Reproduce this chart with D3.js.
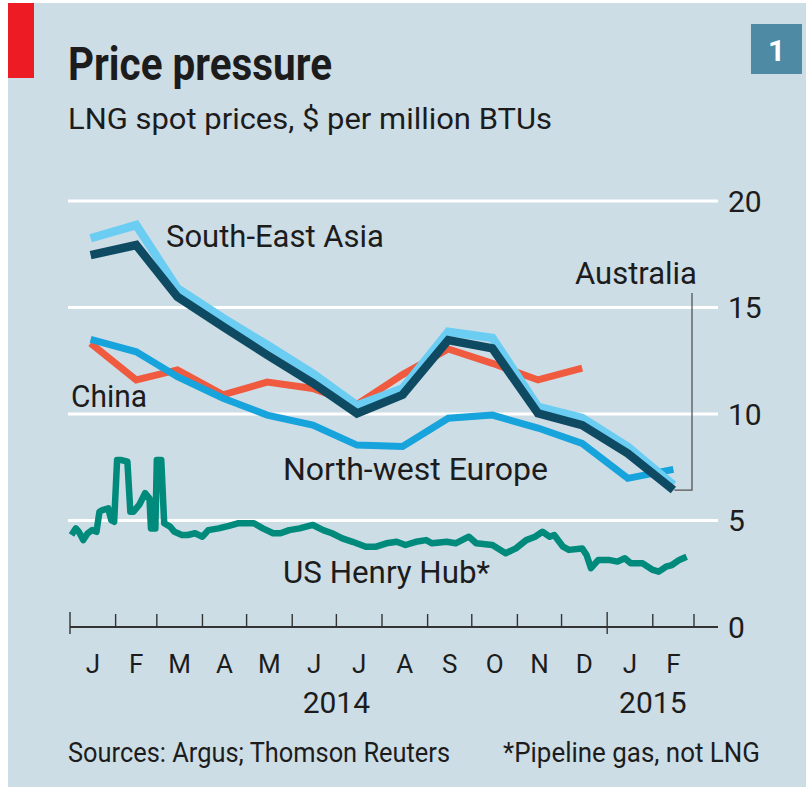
<!DOCTYPE html>
<html>
<head>
<meta charset="utf-8">
<script src="https://cdn.jsdelivr.net/npm/d3@7/dist/d3.min.js"></script>
<style>
  html, body { margin: 0; padding: 0; background: #ffffff; }
  svg { display: block; }
  text { font-family: Roboto, "Open Sans", "Noto Sans", sans-serif; fill: #1c1c1c; }
</style>
</head>
<body>
<svg id="chart" width="811" height="787"></svg>
<script>
// ---------------- data ----------------
const monthKeys = ["2014-01","2014-02","2014-03","2014-04","2014-05","2014-06","2014-07",
                   "2014-08","2014-09","2014-10","2014-11","2014-12","2015-01","2015-02"];
const southEastAsia = [18.25, 18.87, 15.9, 14.5, 13.24, 11.9, 10.4, 11.2, 13.86, 13.57, 10.34, 9.81, 8.46, 6.67];
const australia     = [17.46, 17.93, 15.5, 14.1, 12.77, 11.45, 10.03, 10.9, 13.47, 13.08, 10.03, 9.48, 8.15, 6.43];
const china         = [13.32, 11.6, 12.07, 10.9, 11.5, 11.2, 10.45, 11.85, 13.05, 12.38, 11.6, 12.15];
const northWestEurope = [13.5, 12.92, 11.75, 10.74, 9.95, 9.48, 8.54, 8.47, 9.8, 9.95, 9.34, 8.62, 6.98, 7.4];

const henryHubDates = ["2014-01-02","2014-01-05","2014-01-07","2014-01-10","2014-01-13","2014-01-16","2014-01-19",
  "2014-01-21","2014-01-23","2014-01-27","2014-01-29","2014-01-31","2014-02-02","2014-02-05","2014-02-09",
  "2014-02-11","2014-02-13","2014-02-17","2014-02-21","2014-02-24","2014-02-25","2014-02-28","2014-03-01",
  "2014-03-04","2014-03-06","2014-03-10","2014-03-13","2014-03-18","2014-03-22","2014-03-27","2014-04-01",
  "2014-04-05","2014-04-12","2014-04-19","2014-04-25","2014-04-28","2014-05-06","2014-05-12","2014-05-19",
  "2014-05-24","2014-05-30","2014-06-06","2014-06-15","2014-06-22","2014-06-28","2014-07-05","2014-07-12",
  "2014-07-21","2014-07-28","2014-08-04","2014-08-11","2014-08-17","2014-08-24","2014-08-31","2014-09-04",
  "2014-09-14","2014-09-20","2014-09-29","2014-10-04","2014-10-15","2014-10-24","2014-10-31","2014-11-07",
  "2014-11-13","2014-11-18","2014-11-23","2014-11-26","2014-12-02","2014-12-06","2014-12-15","2014-12-18",
  "2014-12-21","2014-12-26","2015-01-02","2015-01-08","2015-01-13","2015-01-17","2015-01-25","2015-02-01",
  "2015-02-05","2015-02-10","2015-02-14","2015-02-19","2015-02-24"];
const henryHubValues = [4.32,4.63,4.47,4.08,4.40,4.55,4.47,
  5.41,5.49,5.57,5.02,4.94,7.84,7.84,7.76,
  5.41,5.41,5.73,6.28,6.04,4.63,4.63,7.84,
  7.84,4.87,4.71,4.47,4.32,4.32,4.40,4.24,
  4.55,4.63,4.75,4.87,4.87,4.87,4.63,4.40,
  4.40,4.55,4.63,4.79,4.55,4.40,4.16,4.00,
  3.77,3.77,3.93,4.00,3.85,4.00,4.08,3.93,
  4.00,3.93,4.24,3.93,3.85,3.46,3.69,4.08,
  4.24,4.47,4.24,4.32,3.77,3.62,3.69,3.38,
  2.76,3.15,3.15,3.07,3.23,2.99,2.99,2.68,
  2.60,2.83,2.91,3.15,3.30];

const monthLetters = ["J","F","M","A","M","J","J","A","S","O","N","D","J","F"];
const yTicks = [0, 5, 10, 15, 20];
const yearLabels = [{label: "2014", date: "2014-07-01"}, {label: "2015", date: "2015-02-01"}];

// ---------------- setup ----------------
const svg = d3.select("#chart");
const parse = d3.timeParse("%Y-%m-%d");
const monthDates = monthKeys.map(m => parse(m + "-15"));

const x = d3.scaleTime().domain([new Date(2014, 0, 1), new Date(2015, 2, 1)]).range([70, 694]);
const y = d3.scaleLinear().domain([0, 20]).range([627, 201]);
const gridLeft = 68, gridRight = 718;

function fit(sel, width) {
  sel.attr("textLength", width).attr("lengthAdjust", "spacingAndGlyphs");
  return sel;
}

// background
svg.append("rect").attr("x", 8).attr("y", 3).attr("width", 798).attr("height", 784).attr("fill", "#cddde6");
svg.append("rect").attr("x", 8).attr("y", 3).attr("width", 26).attr("height", 75).attr("fill", "#ed1c24");

// title
fit(svg.append("text").attr("x", 68).attr("y", 80).attr("font-size", 47).attr("font-weight", 700)
   .text("Price pressure"), 264);
fit(svg.append("text").attr("x", 68).attr("y", 129).attr("font-size", 30)
   .text("LNG spot prices, $ per million BTUs"), 484);

// number box
svg.append("rect").attr("x", 751).attr("y", 24).attr("width", 51).attr("height", 50).attr("fill", "#4e8aa4");
svg.append("text").attr("x", 776.5).attr("y", 61).attr("text-anchor", "middle").attr("font-size", 30)
   .attr("font-weight", 700).style("fill", "#ffffff").text("1");

// gridlines
svg.append("g").selectAll("line").data(yTicks.filter(d => d > 0)).join("line")
  .attr("x1", gridLeft).attr("x2", gridRight)
  .attr("y1", d => y(d)).attr("y2", d => y(d))
  .attr("stroke", "#ffffff").attr("stroke-width", 3);

// y labels
svg.append("g").selectAll("text").data(yTicks).join("text")
  .attr("x", 728).attr("y", d => y(d)).attr("dy", "0.36em")
  .attr("font-size", 30).text(d => d);

// x axis
const axisG = svg.append("g");
axisG.append("line").attr("x1", 70).attr("x2", gridRight).attr("y1", y(0)).attr("y2", y(0))
  .attr("stroke", "#333333").attr("stroke-width", 2);
const monthTicks = d3.timeMonth.range(new Date(2014, 0, 1), new Date(2015, 2, 2));
axisG.selectAll("line.tick").data(monthTicks).join("line").attr("class", "tick")
  .attr("x1", d => x(d)).attr("x2", d => x(d))
  .attr("y1", d => d.getMonth() === 0 ? y(0) + 7 : y(0))
  .attr("y2", d => d.getMonth() === 0 ? y(0) - 15 : y(0) - 13)
  .attr("stroke", "#333333").attr("stroke-width", 1.4);

axisG.selectAll("text.month").data(monthLetters).join("text").attr("class", "month")
  .attr("x", (d, i) => (x(monthTicks[i]) + x(monthTicks[i + 1])) / 2)
  .attr("y", 673).attr("text-anchor", "middle").attr("font-size", 26).text(d => d);

axisG.selectAll("text.year").data(yearLabels).join("text").attr("class", "year")
  .attr("x", d => x(parse(d.date))).attr("y", 713).attr("text-anchor", "middle")
  .attr("font-size", 30).text(d => d.label);

// lines
const line = d3.line().x(d => x(d.date)).y(d => y(d.value));
function series(vals, dates) { return vals.map((v, i) => ({date: dates[i], value: v})); }

const hhDates = henryHubDates.map(parse);
svg.append("path").datum(series(henryHubValues, hhDates)).attr("d", line)
  .attr("fill", "none").attr("stroke", "#008a7c").attr("stroke-width", 6.5).attr("stroke-linejoin", "round");

svg.append("path").datum(series(china, monthDates)).attr("d", line)
  .attr("fill", "none").attr("stroke", "#f05a3e").attr("stroke-width", 7);
svg.append("path").datum(series(northWestEurope, monthDates)).attr("d", line)
  .attr("fill", "none").attr("stroke", "#17a3dc").attr("stroke-width", 7);
svg.append("path").datum(series(southEastAsia, monthDates)).attr("d", line)
  .attr("fill", "none").attr("stroke", "#6ccdf3").attr("stroke-width", 8.5);
svg.append("path").datum(series(australia, monthDates)).attr("d", line)
  .attr("fill", "none").attr("stroke", "#0e4b63").attr("stroke-width", 8.5);

// Australia leader
const ausEndX = x(monthDates[monthDates.length - 1]);
const ausEndY = y(australia[australia.length - 1]);
svg.append("path")
  .attr("d", `M${ausEndX + 1},${ausEndY}H692V293`)
  .attr("fill", "none").attr("stroke", "#555555").attr("stroke-width", 1.3);

// series labels
fit(svg.append("text").attr("x", 166).attr("y", 247).attr("font-size", 31).text("South-East Asia"), 218);
fit(svg.append("text").attr("x", 71).attr("y", 407).attr("font-size", 31).text("China"), 76);
fit(svg.append("text").attr("x", 283).attr("y", 480).attr("font-size", 31).text("North-west Europe"), 265);
fit(svg.append("text").attr("x", 283).attr("y", 583).attr("font-size", 31).text("US Henry Hub*"), 207);
fit(svg.append("text").attr("x", 575).attr("y", 284).attr("font-size", 31).text("Australia"), 122);

// footer
fit(svg.append("text").attr("x", 68).attr("y", 762).attr("font-size", 27).text("Sources: Argus; Thomson Reuters"), 382);
fit(svg.append("text").attr("x", 503).attr("y", 762).attr("font-size", 27).text("*Pipeline gas, not LNG"), 257);
</script>
</body>
</html>
